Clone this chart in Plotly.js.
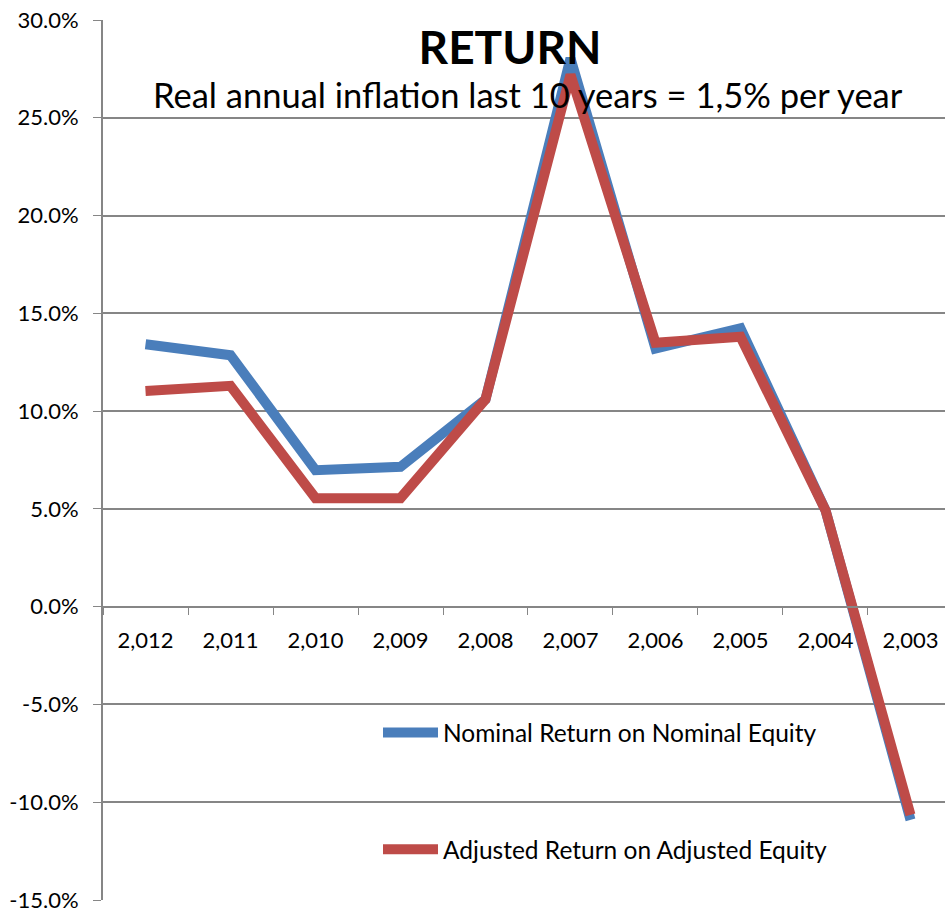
<!DOCTYPE html>
<html>
<head>
<meta charset="utf-8">
<script src="https://cdn.plot.ly/plotly-3.0.1.min.js"></script>
<style>
  html, body { margin: 0; padding: 0; background: #fff; }
  #chart { width: 945px; height: 913px; }
</style>
</head>
<body>
<div id="chart"></div>
<script>
const years = ["2,012", "2,011", "2,010", "2,009", "2,008", "2,007", "2,006", "2,005", "2,004", "2,003"];
const nominalReturn = [0.1342, 0.1286, 0.0698, 0.0715, 0.1060, 0.2804, 0.1320, 0.1424, 0.0493, -0.1090];
const adjustedReturn = [0.1103, 0.1129, 0.0555, 0.0555, 0.1060, 0.2720, 0.1350, 0.1380, 0.0493, -0.1065];
const yTickVals = [-0.15, -0.10, -0.05, 0, 0.05, 0.10, 0.15, 0.20, 0.25, 0.30];
const yTickText = ["-15.0%", "-10.0%", "-5.0%", "0.0%", "5.0%", "10.0%", "15.0%", "20.0%", "25.0%", "30.0%"];

const FONT = "Lato, 'Open Sans', sans-serif";

const traces = [
  {
    x: years, y: nominalReturn, type: "scatter", mode: "lines",
    name: "Nominal Return on Nominal Equity", legendgroup: "a",
    line: { color: "#4A7EBB", width: 10, shape: "linear" }
  },
  {
    x: years, y: adjustedReturn, type: "scatter", mode: "lines",
    name: "Adjusted Return on Adjusted Equity", legendgroup: "b",
    line: { color: "#BE4B48", width: 10, shape: "linear" }
  }
];

const layout = {
  width: 945, height: 913,
  margin: { l: 103, r: 0, t: 20, b: 13 },
  paper_bgcolor: "#fff", plot_bgcolor: "#fff",
  font: { family: FONT, color: "#000", size: 22 },
  showlegend: true,
  title: {
    text: "<b>RETURN</b>",
    font: { family: FONT, size: 46, color: "#000" },
    x: 510 / 945, xanchor: "center", xref: "container",
    y: 1 - 48 / 913, yanchor: "middle", yref: "container"
  },
  annotations: [{
    text: "Real annual inflation last 10 years = 1,5% per year",
    xref: "paper", yref: "paper",
    x: (528 - 103) / 842, y: (900 - 95) / 880, xanchor: "center", yanchor: "middle",
    showarrow: false,
    font: { family: FONT, size: 34.5, color: "#000" }
  }],
  xaxis: {
    type: "category",
    range: [-0.5, 9.406],
    anchor: "free", position: 15 / 45,
    showline: true, linecolor: "#868686", linewidth: 2,
    showgrid: false, zeroline: false,
    ticks: "outside", ticklen: 7, tickwidth: 1, tickcolor: "#868686",
    tickson: "boundaries",
    tickfont: { family: FONT, size: 22, color: "#000" },
    ticklabelstandoff: 14,
    fixedrange: true
  },
  yaxis: {
    range: [-0.15, 0.30],
    tickvals: yTickVals, ticktext: yTickText,
    showline: true, linecolor: "#868686", linewidth: 2,
    showgrid: true, gridcolor: "#868686", gridwidth: 2,
    zeroline: false,
    ticks: "outside", ticklen: 8, tickwidth: 1, tickcolor: "#868686",
    tickfont: { family: FONT, size: 22, color: "#000" },
    ticklabelstandoff: 10,
    fixedrange: true
  },
  legend: {
    x: (378 - 103) / 842, xanchor: "left",
    y: (900 - 710) / 880, yanchor: "top",
    bgcolor: "rgba(0,0,0,0)",
    borderwidth: 0,
    tracegroupgap: 82,
    traceorder: "grouped",
    itemwidth: 55,
    font: { family: FONT, size: 24.5, color: "#000" }
  }
};

Plotly.newPlot("chart", traces, layout, { displayModeBar: false, staticPlot: true });
</script>
</body>
</html>
